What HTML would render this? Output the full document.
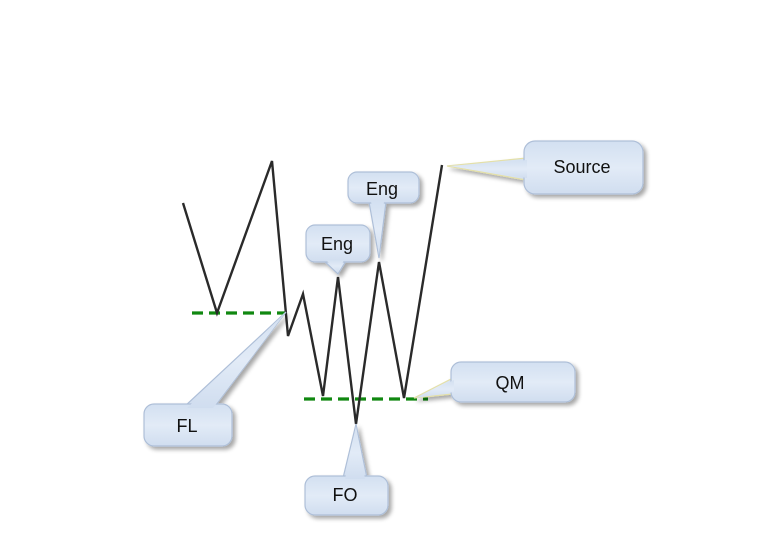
<!DOCTYPE html>
<html><head><meta charset="utf-8"><style>
html,body{margin:0;padding:0;background:#fff;}
svg{display:block;}
text{font-family:"Liberation Sans",Arial,sans-serif;font-size:18px;fill:#111;}
</style></head><body>
<svg width="757" height="535" viewBox="0 0 757 535" xmlns="http://www.w3.org/2000/svg">
<defs>
<linearGradient id="g" x1="0" y1="0" x2="0" y2="1">
<stop offset="0" stop-color="#d3e0f1"/><stop offset="0.5" stop-color="#e2ebf7"/><stop offset="1" stop-color="#d0ddef"/>
</linearGradient>
<filter id="sh" x="-20%" y="-20%" width="150%" height="150%">
<feGaussianBlur in="SourceAlpha" stdDeviation="2"/><feOffset dx="3" dy="3"/>
<feComponentTransfer><feFuncA type="linear" slope="0.35"/></feComponentTransfer>
<feMerge><feMergeNode/><feMergeNode in="SourceGraphic"/></feMerge>
</filter>
</defs>

<line x1="192" y1="313" x2="286" y2="313" stroke="#108810" stroke-width="3.2" stroke-dasharray="11,6"/>
<line x1="304" y1="399" x2="428" y2="399" stroke="#108810" stroke-width="3.2" stroke-dasharray="11,6"/>

<polyline points="183,203 217,313 272,161 288,336 303,294 323,396 338,277 356,424 379,262 404,398 442,165" fill="none" stroke="#2a2a2a" stroke-width="2.4" stroke-linejoin="miter"/>

<g filter="url(#sh)" stroke="#aebfd8" stroke-width="1.2" fill="url(#g)">
<polygon points="286,312 185,406 215,406"/>
<rect x="144" y="404" width="88" height="42" rx="10"/>
<polygon points="286,312 187,408 213,408" stroke="none"/>
<polygon points="356,424 343,478 367,478"/>
<rect x="305" y="476" width="83" height="39" rx="10"/>
<polygon points="356,426 345,479 365,479" stroke="none"/>
<polygon points="338,274 324,261 346,261"/>
<rect x="306" y="225" width="64" height="37" rx="9"/>
<polygon points="338,272 326,260 344,260" stroke="none"/>
<polygon points="379,258 369,202 386,202"/>
<rect x="348" y="172" width="71" height="31" rx="9"/>
<polygon points="379,256 371,201 384,201" stroke="none"/>
<polygon points="447,166 526,158 526,180" stroke="#e4e0a8"/>
<rect x="524" y="141" width="119" height="53" rx="11"/>
<polygon points="449,166 527,160 527,178" stroke="none"/>
<polygon points="414,398 453,378 453,394" stroke="#e4e0a8"/>
<rect x="451" y="362" width="124" height="40" rx="10"/>
<polygon points="416,398 454,380 454,392" stroke="none"/>
</g>

<text x="187" y="432" text-anchor="middle">FL</text>
<text x="345" y="501" text-anchor="middle">FO</text>
<text x="337" y="250" text-anchor="middle">Eng</text>
<text x="382" y="195" text-anchor="middle">Eng</text>
<text x="582" y="173" text-anchor="middle">Source</text>
<text x="510" y="389" text-anchor="middle">QM</text>
</svg>
</body></html>
